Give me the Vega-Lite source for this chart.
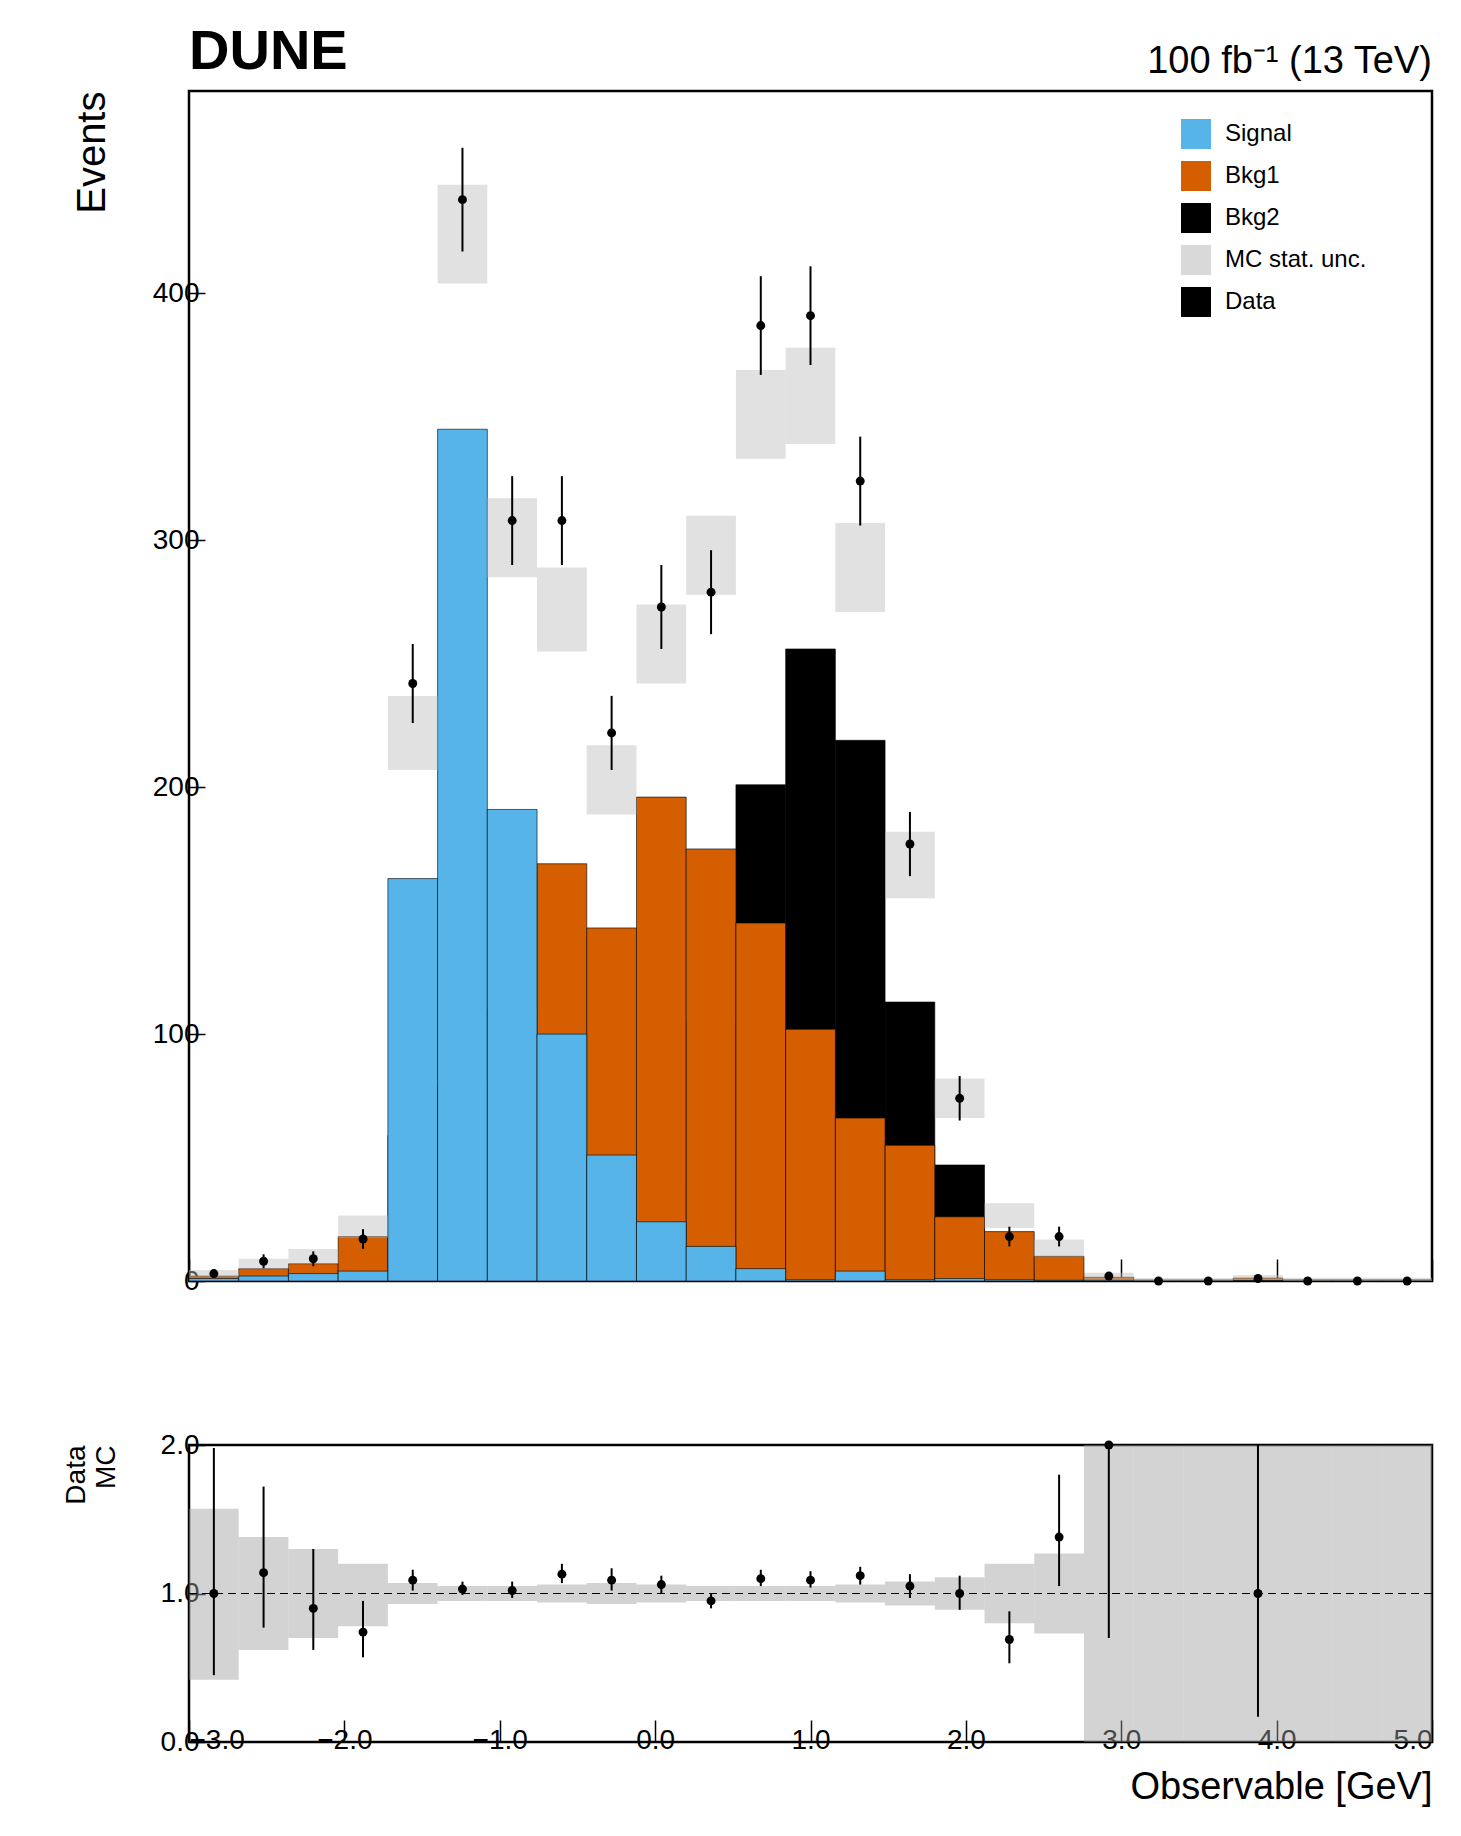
{
  "$schema": "https://vega.github.io/schema/vega-lite/v6.json",
  "autosize": {"type": "pad"},
  "padding": {"left": 60, "top": 22, "right": 24, "bottom": 20},
  "background": "white",
  "spacing": 132,
  "config": {
    "font": "Liberation Sans",
    "view": {"stroke": "black", "strokeWidth": 2.5},
    "axis": {"labelFont": "Liberation Sans", "titleFont": "Liberation Sans", "labelFontSize": 28, "titleFontSize": 38, "titleFontWeight": "normal", "tickSize": -16, "tickColor": "black", "tickWidth": 1.5, "domain": false, "grid": false, "labelColor": "black", "titleColor": "black", "labelPadding": 6}
  },
  "datasets": {
    "stack": [
      {"lo": -3.0, "hi": -2.68, "p": "Bkg2", "o": 0, "v": 0}, {"lo": -3.0, "hi": -2.68, "p": "Bkg1", "o": 1, "v": 2}, {"lo": -3.0, "hi": -2.68, "p": "Signal", "o": 2, "v": 1},
      {"lo": -2.68, "hi": -2.36, "p": "Bkg2", "o": 0, "v": 0}, {"lo": -2.68, "hi": -2.36, "p": "Bkg1", "o": 1, "v": 5}, {"lo": -2.68, "hi": -2.36, "p": "Signal", "o": 2, "v": 2},
      {"lo": -2.36, "hi": -2.04, "p": "Bkg2", "o": 0, "v": 0}, {"lo": -2.36, "hi": -2.04, "p": "Bkg1", "o": 1, "v": 7}, {"lo": -2.36, "hi": -2.04, "p": "Signal", "o": 2, "v": 3},
      {"lo": -2.04, "hi": -1.72, "p": "Bkg2", "o": 0, "v": 0}, {"lo": -2.04, "hi": -1.72, "p": "Bkg1", "o": 1, "v": 18}, {"lo": -2.04, "hi": -1.72, "p": "Signal", "o": 2, "v": 4},
      {"lo": -1.72, "hi": -1.4, "p": "Bkg2", "o": 0, "v": 0}, {"lo": -1.72, "hi": -1.4, "p": "Bkg1", "o": 1, "v": 59}, {"lo": -1.72, "hi": -1.4, "p": "Signal", "o": 2, "v": 163},
      {"lo": -1.4, "hi": -1.08, "p": "Bkg2", "o": 0, "v": 0}, {"lo": -1.4, "hi": -1.08, "p": "Bkg1", "o": 1, "v": 79}, {"lo": -1.4, "hi": -1.08, "p": "Signal", "o": 2, "v": 345},
      {"lo": -1.08, "hi": -0.76, "p": "Bkg2", "o": 0, "v": 0}, {"lo": -1.08, "hi": -0.76, "p": "Bkg1", "o": 1, "v": 110}, {"lo": -1.08, "hi": -0.76, "p": "Signal", "o": 2, "v": 191},
      {"lo": -0.76, "hi": -0.44, "p": "Bkg2", "o": 0, "v": 3}, {"lo": -0.76, "hi": -0.44, "p": "Bkg1", "o": 1, "v": 169}, {"lo": -0.76, "hi": -0.44, "p": "Signal", "o": 2, "v": 100},
      {"lo": -0.44, "hi": -0.12, "p": "Bkg2", "o": 0, "v": 9}, {"lo": -0.44, "hi": -0.12, "p": "Bkg1", "o": 1, "v": 143}, {"lo": -0.44, "hi": -0.12, "p": "Signal", "o": 2, "v": 51},
      {"lo": -0.12, "hi": 0.2, "p": "Bkg2", "o": 0, "v": 38}, {"lo": -0.12, "hi": 0.2, "p": "Bkg1", "o": 1, "v": 196}, {"lo": -0.12, "hi": 0.2, "p": "Signal", "o": 2, "v": 24},
      {"lo": 0.2, "hi": 0.52, "p": "Bkg2", "o": 0, "v": 105}, {"lo": 0.2, "hi": 0.52, "p": "Bkg1", "o": 1, "v": 175}, {"lo": 0.2, "hi": 0.52, "p": "Signal", "o": 2, "v": 14},
      {"lo": 0.52, "hi": 0.84, "p": "Bkg2", "o": 0, "v": 201}, {"lo": 0.52, "hi": 0.84, "p": "Bkg1", "o": 1, "v": 145}, {"lo": 0.52, "hi": 0.84, "p": "Signal", "o": 2, "v": 5},
      {"lo": 0.84, "hi": 1.16, "p": "Bkg2", "o": 0, "v": 256}, {"lo": 0.84, "hi": 1.16, "p": "Bkg1", "o": 1, "v": 102}, {"lo": 0.84, "hi": 1.16, "p": "Signal", "o": 2, "v": 0.5},
      {"lo": 1.16, "hi": 1.48, "p": "Bkg2", "o": 0, "v": 219}, {"lo": 1.16, "hi": 1.48, "p": "Bkg1", "o": 1, "v": 66}, {"lo": 1.16, "hi": 1.48, "p": "Signal", "o": 2, "v": 4},
      {"lo": 1.48, "hi": 1.8, "p": "Bkg2", "o": 0, "v": 113}, {"lo": 1.48, "hi": 1.8, "p": "Bkg1", "o": 1, "v": 55}, {"lo": 1.48, "hi": 1.8, "p": "Signal", "o": 2, "v": 0.5},
      {"lo": 1.8, "hi": 2.12, "p": "Bkg2", "o": 0, "v": 47}, {"lo": 1.8, "hi": 2.12, "p": "Bkg1", "o": 1, "v": 26}, {"lo": 1.8, "hi": 2.12, "p": "Signal", "o": 2, "v": 1},
      {"lo": 2.12, "hi": 2.44, "p": "Bkg2", "o": 0, "v": 6}, {"lo": 2.12, "hi": 2.44, "p": "Bkg1", "o": 1, "v": 20}, {"lo": 2.12, "hi": 2.44, "p": "Signal", "o": 2, "v": 0.5},
      {"lo": 2.44, "hi": 2.76, "p": "Bkg2", "o": 0, "v": 3}, {"lo": 2.44, "hi": 2.76, "p": "Bkg1", "o": 1, "v": 10}, {"lo": 2.44, "hi": 2.76, "p": "Signal", "o": 2, "v": 0.3},
      {"lo": 2.76, "hi": 3.08, "p": "Bkg2", "o": 0, "v": 0}, {"lo": 2.76, "hi": 3.08, "p": "Bkg1", "o": 1, "v": 1.5}, {"lo": 2.76, "hi": 3.08, "p": "Signal", "o": 2, "v": 0.3},
      {"lo": 3.08, "hi": 3.4, "p": "Bkg2", "o": 0, "v": 0}, {"lo": 3.08, "hi": 3.4, "p": "Bkg1", "o": 1, "v": 0.3}, {"lo": 3.08, "hi": 3.4, "p": "Signal", "o": 2, "v": 0.1},
      {"lo": 3.4, "hi": 3.72, "p": "Bkg2", "o": 0, "v": 0}, {"lo": 3.4, "hi": 3.72, "p": "Bkg1", "o": 1, "v": 0.3}, {"lo": 3.4, "hi": 3.72, "p": "Signal", "o": 2, "v": 0.1},
      {"lo": 3.72, "hi": 4.04, "p": "Bkg2", "o": 0, "v": 0}, {"lo": 3.72, "hi": 4.04, "p": "Bkg1", "o": 1, "v": 1.2}, {"lo": 3.72, "hi": 4.04, "p": "Signal", "o": 2, "v": 0.2},
      {"lo": 4.04, "hi": 4.36, "p": "Bkg2", "o": 0, "v": 0}, {"lo": 4.04, "hi": 4.36, "p": "Bkg1", "o": 1, "v": 0.4}, {"lo": 4.04, "hi": 4.36, "p": "Signal", "o": 2, "v": 0.1},
      {"lo": 4.36, "hi": 4.68, "p": "Bkg2", "o": 0, "v": 0}, {"lo": 4.36, "hi": 4.68, "p": "Bkg1", "o": 1, "v": 0.4}, {"lo": 4.36, "hi": 4.68, "p": "Signal", "o": 2, "v": 0.1},
      {"lo": 4.68, "hi": 5.0, "p": "Bkg2", "o": 0, "v": 0}, {"lo": 4.68, "hi": 5.0, "p": "Bkg1", "o": 1, "v": 0.4}, {"lo": 4.68, "hi": 5.0, "p": "Signal", "o": 2, "v": 0.1}
    ],
    "bins": [
      {"lo": -3.0, "hi": -2.68, "c": -2.84, "ulo": 1.5, "uhi": 4.5, "n": 3, "nlo": 1.3, "nhi": 4.7, "r": 1.0, "rlo": 0.45, "rhi": 1.98, "rulo": 0.42, "ruhi": 1.57},
      {"lo": -2.68, "hi": -2.36, "c": -2.52, "ulo": 5, "uhi": 9, "n": 8, "nlo": 5.2, "nhi": 10.8, "r": 1.14, "rlo": 0.77, "rhi": 1.72, "rulo": 0.62, "ruhi": 1.38},
      {"lo": -2.36, "hi": -2.04, "c": -2.2, "ulo": 7, "uhi": 13, "n": 9, "nlo": 6, "nhi": 12, "r": 0.9, "rlo": 0.62, "rhi": 1.3, "rulo": 0.7, "ruhi": 1.3},
      {"lo": -2.04, "hi": -1.72, "c": -1.88, "ulo": 17.5, "uhi": 26.5, "n": 17, "nlo": 13, "nhi": 21, "r": 0.74, "rlo": 0.57, "rhi": 0.95, "rulo": 0.78, "ruhi": 1.2},
      {"lo": -1.72, "hi": -1.4, "c": -1.56, "ulo": 207, "uhi": 237, "n": 242, "nlo": 226, "nhi": 258, "r": 1.09, "rlo": 1.02, "rhi": 1.16, "rulo": 0.93, "ruhi": 1.07},
      {"lo": -1.4, "hi": -1.08, "c": -1.24, "ulo": 404, "uhi": 444, "n": 438, "nlo": 417, "nhi": 459, "r": 1.03, "rlo": 0.99, "rhi": 1.08, "rulo": 0.95, "ruhi": 1.05},
      {"lo": -1.08, "hi": -0.76, "c": -0.92, "ulo": 285, "uhi": 317, "n": 308, "nlo": 290, "nhi": 326, "r": 1.02, "rlo": 0.97, "rhi": 1.08, "rulo": 0.95, "ruhi": 1.05},
      {"lo": -0.76, "hi": -0.44, "c": -0.6, "ulo": 255, "uhi": 289, "n": 308, "nlo": 290, "nhi": 326, "r": 1.13, "rlo": 1.07, "rhi": 1.2, "rulo": 0.94, "ruhi": 1.06},
      {"lo": -0.44, "hi": -0.12, "c": -0.28, "ulo": 189, "uhi": 217, "n": 222, "nlo": 207, "nhi": 237, "r": 1.09, "rlo": 1.02, "rhi": 1.17, "rulo": 0.93, "ruhi": 1.07},
      {"lo": -0.12, "hi": 0.2, "c": 0.04, "ulo": 242, "uhi": 274, "n": 273, "nlo": 256, "nhi": 290, "r": 1.06, "rlo": 1.0, "rhi": 1.12, "rulo": 0.94, "ruhi": 1.06},
      {"lo": 0.2, "hi": 0.52, "c": 0.36, "ulo": 278, "uhi": 310, "n": 279, "nlo": 262, "nhi": 296, "r": 0.95, "rlo": 0.9, "rhi": 1.0, "rulo": 0.95, "ruhi": 1.05},
      {"lo": 0.52, "hi": 0.84, "c": 0.68, "ulo": 333, "uhi": 369, "n": 387, "nlo": 367, "nhi": 407, "r": 1.1, "rlo": 1.05, "rhi": 1.16, "rulo": 0.95, "ruhi": 1.05},
      {"lo": 0.84, "hi": 1.16, "c": 1.0, "ulo": 339, "uhi": 378, "n": 391, "nlo": 371, "nhi": 411, "r": 1.09, "rlo": 1.04, "rhi": 1.15, "rulo": 0.95, "ruhi": 1.05},
      {"lo": 1.16, "hi": 1.48, "c": 1.32, "ulo": 271, "uhi": 307, "n": 324, "nlo": 306, "nhi": 342, "r": 1.12, "rlo": 1.06, "rhi": 1.18, "rulo": 0.94, "ruhi": 1.06},
      {"lo": 1.48, "hi": 1.8, "c": 1.64, "ulo": 155, "uhi": 182, "n": 177, "nlo": 164, "nhi": 190, "r": 1.05, "rlo": 0.97, "rhi": 1.13, "rulo": 0.92, "ruhi": 1.08},
      {"lo": 1.8, "hi": 2.12, "c": 1.96, "ulo": 66, "uhi": 82, "n": 74, "nlo": 65, "nhi": 83, "r": 1.0, "rlo": 0.89, "rhi": 1.12, "rulo": 0.89, "ruhi": 1.11},
      {"lo": 2.12, "hi": 2.44, "c": 2.28, "ulo": 21.5, "uhi": 31.5, "n": 18, "nlo": 14, "nhi": 22, "r": 0.69, "rlo": 0.53, "rhi": 0.88, "rulo": 0.8, "ruhi": 1.2},
      {"lo": 2.44, "hi": 2.76, "c": 2.6, "ulo": 9.8, "uhi": 16.8, "n": 18, "nlo": 14, "nhi": 22, "r": 1.38, "rlo": 1.05, "rhi": 1.8, "rulo": 0.73, "ruhi": 1.27},
      {"lo": 2.76, "hi": 3.08, "c": 2.92, "ulo": 0.3, "uhi": 3.3, "n": 2, "nlo": 0.6, "nhi": 3.4, "r": 2.0, "rlo": 0.7, "rhi": 2.5, "rulo": 0, "ruhi": 2},
      {"lo": 3.08, "hi": 3.4, "c": 3.24, "ulo": 0, "uhi": 1.2, "n": 0, "nlo": 0, "nhi": 0, "r": null, "rlo": null, "rhi": null, "rulo": 0, "ruhi": 2},
      {"lo": 3.4, "hi": 3.72, "c": 3.56, "ulo": 0, "uhi": 1.2, "n": 0, "nlo": 0, "nhi": 0, "r": null, "rlo": null, "rhi": null, "rulo": 0, "ruhi": 2},
      {"lo": 3.72, "hi": 4.04, "c": 3.88, "ulo": 0.4, "uhi": 2.4, "n": 1, "nlo": 0, "nhi": 2, "r": 1.0, "rlo": 0.17, "rhi": 2.5, "rulo": 0, "ruhi": 2},
      {"lo": 4.04, "hi": 4.36, "c": 4.2, "ulo": 0, "uhi": 1.3, "n": 0, "nlo": 0, "nhi": 0, "r": null, "rlo": null, "rhi": null, "rulo": 0, "ruhi": 2},
      {"lo": 4.36, "hi": 4.68, "c": 4.52, "ulo": 0, "uhi": 1.3, "n": 0, "nlo": 0, "nhi": 0, "r": null, "rlo": null, "rhi": null, "rulo": 0, "ruhi": 2},
      {"lo": 4.68, "hi": 5.0, "c": 4.84, "ulo": 0, "uhi": 1.3, "n": 0, "nlo": 0, "nhi": 0, "r": null, "rlo": null, "rhi": null, "rulo": 0, "ruhi": 2}
    ]
  },
  "vconcat": [
    {
      "width": 1243,
      "height": 1190,
      "layer": [
        {
          "data": {"name": "stack"},
          "mark": {"type": "rect", "stroke": "black", "strokeWidth": 0.6},
          "encoding": {
            "x": {"field": "lo", "type": "quantitative", "scale": {"domain": [-3, 5], "nice": false}, "axis": {"labels": false, "title": null, "values": [-3, -2, -1, 0, 1, 2, 3, 4, 5], "tickSize": -22}},
            "x2": {"field": "hi"},
            "y": {"field": "v", "type": "quantitative", "stack": "zero", "scale": {"domain": [0, 482], "nice": false}, "axis": {"title": "Events", "values": [0, 100, 200, 300, 400], "titleAnchor": "end", "titlePadding": 40, "titleFontSize": 40}},
            "color": {"field": "p", "type": "nominal", "scale": {"domain": ["Signal", "Bkg1", "Bkg2", "MC stat. unc.", "Data"], "range": ["#56B4E9", "#D55E00", "#000000", "#d9d9d9", "#000000"]}, "legend": {"title": null, "orient": "none", "legendX": 992, "legendY": 28, "symbolType": "square", "symbolSize": 900, "symbolStrokeWidth": 0, "labelFontSize": 24, "labelFont": "Liberation Sans", "rowPadding": 12, "labelOffset": 14, "labelColor": "black"}},
            "order": {"field": "o", "type": "quantitative"}
          }
        },
        {
          "data": {"name": "bins"},
          "mark": {"type": "rect", "fill": "#bdbdbd", "opacity": 0.45},
          "encoding": {
            "x": {"field": "lo", "type": "quantitative"},
            "x2": {"field": "hi"},
            "y": {"field": "ulo", "type": "quantitative"},
            "y2": {"field": "uhi"}
          }
        },
        {
          "data": {"name": "bins"},
          "mark": {"type": "rule", "color": "black", "strokeWidth": 2},
          "encoding": {
            "x": {"field": "c", "type": "quantitative"},
            "y": {"field": "nlo", "type": "quantitative"},
            "y2": {"field": "nhi"}
          }
        },
        {
          "data": {"name": "bins"},
          "mark": {"type": "point", "filled": true, "color": "black", "size": 80, "opacity": 1},
          "encoding": {
            "x": {"field": "c", "type": "quantitative"},
            "y": {"field": "n", "type": "quantitative"}
          }
        },
        {
          "data": {"values": [{"t": "DUNE"}]},
          "mark": {"type": "text", "align": "left", "baseline": "bottom", "dy": -10, "fontSize": 56, "fontWeight": "bold", "font": "Liberation Sans", "clip": false},
          "encoding": {"x": {"datum": -3}, "y": {"datum": 482}, "text": {"field": "t"}}
        },
        {
          "data": {"values": [{"t": "100 fb⁻¹ (13 TeV)"}]},
          "mark": {"type": "text", "align": "right", "baseline": "bottom", "dy": -10, "fontSize": 38, "font": "Liberation Sans", "clip": false},
          "encoding": {"x": {"datum": 5}, "y": {"datum": 482}, "text": {"field": "t"}}
        }
      ]
    },
    {
      "width": 1243,
      "height": 297,
      "data": {"name": "bins"},
      "layer": [
        {
          "mark": {"type": "rect", "fill": "#9e9e9e", "opacity": 0.45, "clip": true},
          "encoding": {
            "x": {"field": "lo", "type": "quantitative", "scale": {"domain": [-3, 5], "nice": false}, "axis": {"title": "Observable [GeV]", "titleAnchor": "end", "titlePadding": 14, "values": [-3, -2, -1, 0, 1, 2, 3, 4, 5], "labelExpr": "replace(datum.label, '-', '−')", "tickSize": -22}},
            "x2": {"field": "hi"},
            "y": {"field": "rulo", "type": "quantitative", "scale": {"domain": [0, 2], "nice": false}, "axis": {"title": ["Data", "MC"], "titleFontSize": 28, "values": [0, 1, 2], "titleAnchor": "end", "titlePadding": 40}},
            "y2": {"field": "ruhi"}
          }
        },
        {
          "mark": {"type": "rule", "color": "black", "strokeDash": [8, 5], "strokeWidth": 1.2},
          "encoding": {"y": {"datum": 1}}
        },
        {
          "mark": {"type": "rule", "color": "black", "strokeWidth": 2, "clip": true},
          "encoding": {
            "x": {"field": "c", "type": "quantitative"},
            "y": {"field": "rlo", "type": "quantitative"},
            "y2": {"field": "rhi"}
          }
        },
        {
          "mark": {"type": "point", "filled": true, "color": "black", "size": 80, "opacity": 1},
          "encoding": {
            "x": {"field": "c", "type": "quantitative"},
            "y": {"field": "r", "type": "quantitative"}
          }
        }
      ]
    }
  ]
}
